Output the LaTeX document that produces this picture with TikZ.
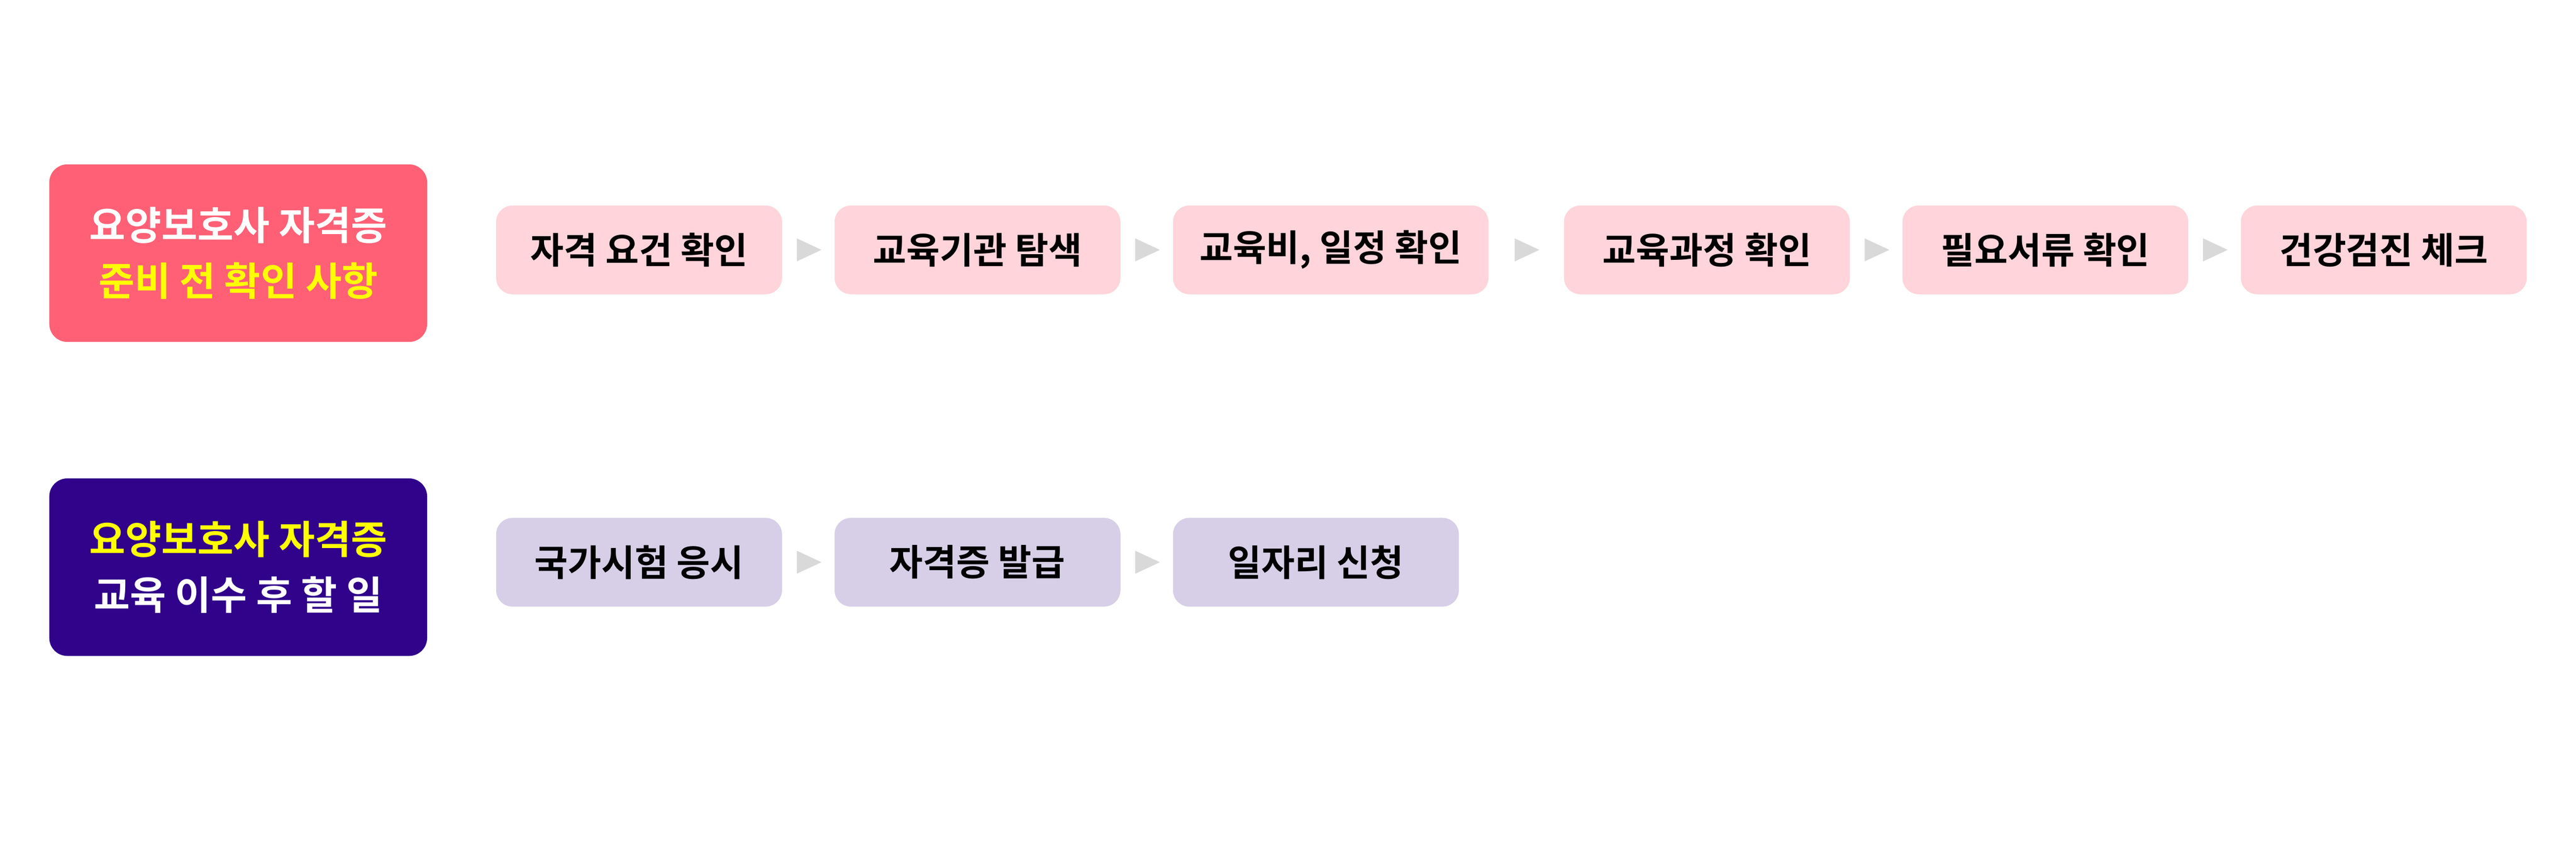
\documentclass[tikz,border=0pt]{standalone}
\usepackage{fontspec}
\setmainfont{Noto Sans CJK KR}[BoldFont={* Bold}]
\usetikzlibrary{positioning,calc}
\definecolor{headpink}{HTML}{FF6075}
\definecolor{steppink}{HTML}{FFD4DA}
\definecolor{headpurple}{HTML}{30038A}
\definecolor{steppurple}{HTML}{D6CFE7}
\definecolor{arrowgray}{HTML}{D9D9D9}
\definecolor{hiyellow}{HTML}{FFFF00}
\begin{document}
\begin{tikzpicture}[
    x=0.1mm, y=-0.1mm,
    inner sep=0pt,
    head/.style={rounded corners=1.1mm, minimum width=23mm,
        minimum height=10.8mm, align=center, text=white,
        font=\fontsize{6.8pt}{9.6pt}\selectfont\bfseries},
    pstep/.style={rounded corners=1mm, fill=steppink,
        minimum height=5.4mm, font=\fontsize{6.3pt}{7pt}\selectfont\bfseries},
    vstep/.style={pstep, fill=steppurple},
    tri/.style={fill=arrowgray, draw=none},
    ]
    \useasboundingbox (0,0) rectangle (1568,514);
    % heads
    \node[head, fill=headpink] (prep) at (145,154)
        {요양보호사 자격증\\\textcolor{hiyellow}{준비 전 확인 사항}};
    \node[head, fill=headpurple] (after) at (145,345)
        {\textcolor{hiyellow}{요양보호사 자격증}\\교육 이수 후 할 일};
    % row 1
    \foreach \n/\a/\b/\t in {p1/302/476/자격 요건 확인, p2/508/682/교육기관 탐색,
        p3/714/906/{교육비, 일정 확인}, p4/952/1126/교육과정 확인,
        p5/1158/1332/필요서류 확인, p6/1364/1538/건강검진 체크}
        \node[pstep, minimum width={(\b-\a)*0.1mm}] (\n) at ({(\a+\b)/2},152) {\t};
    % row 2
    \foreach \n/\a/\b/\t in {v1/302/476/국가시험 응시, v2/508/682/자격증 발급,
        v3/714/888/일자리 신청}
        \node[vstep, minimum width={(\b-\a)*0.1mm}] (\n) at ({(\a+\b)/2},342) {\t};
    % arrows
    \foreach \l/\r in {p1/p2, p2/p3, p3/p4, p4/p5, p5/p6, v1/v2, v2/v3}
        \fill[tri] ($(\l.east)!0.5!(\r.west)+(-7,-7)$) -- ++(15,7) -- ++(-15,7) -- cycle;
\end{tikzpicture}
\end{document}
